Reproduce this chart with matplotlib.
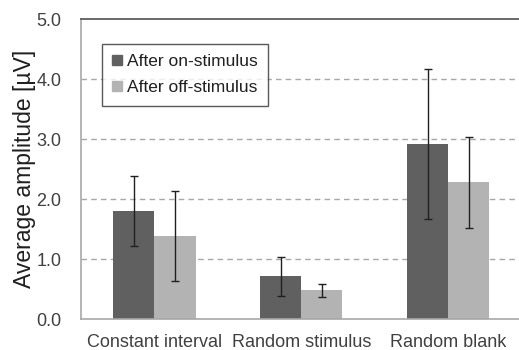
import numpy as np
import matplotlib.pyplot as plt
from matplotlib.patches import Patch

plt.rcParams['font.family'] = ['Liberation Sans', 'DejaVu Sans']

categories = ['Constant interval', 'Random stimulus', 'Random blank']
series_names = ['After on-stimulus', 'After off-stimulus']
on_mean = [1.80, 0.72, 2.92]
on_err_low = [1.21, 0.38, 1.66]
on_err_high = [2.38, 1.03, 4.16]
off_mean = [1.38, 0.48, 2.28]
off_err_low = [0.63, 0.37, 1.52]
off_err_high = [2.13, 0.58, 3.03]
yticks = [0.0, 1.0, 2.0, 3.0, 4.0, 5.0]

dark = '#606060'
light = '#b3b3b3'
text_col = '#404040'

fig = plt.figure(figsize=(5.19, 3.5), dpi=100)
ax = fig.add_axes([81 / 519, 31 / 350, 440.5 / 519, 300 / 350])

x = np.arange(len(categories))
w = 0.28

def draw(offset, mean, lo, hi, color):
    mean = np.array(mean)
    yerr = [mean - np.array(lo), np.array(hi) - mean]
    ax.bar(x + offset, mean, w, color=color, zorder=2)
    ax.errorbar(x + offset, mean, yerr=yerr, fmt='none', ecolor='#202020',
                elinewidth=1.0, capsize=3, capthick=1.0, zorder=3)

draw(-w / 2, on_mean, on_err_low, on_err_high, dark)
draw(w / 2, off_mean, off_err_low, off_err_high, light)

ax.set_xlim(-0.5, 2.5)
ax.set_ylim(0, 5)
ax.set_yticks(yticks)
ax.set_yticklabels([f'{v:.1f}' for v in yticks])
ax.set_xticks(x)
ax.set_xticklabels(categories)
ax.tick_params(axis='both', length=0, labelsize=13, labelcolor=text_col)
ax.tick_params(axis='y', pad=14)
ax.tick_params(axis='x', pad=11)

for v in yticks[1:-1]:
    ax.axhline(v, color='#a8a8a8', linestyle=(0, (4, 3)), linewidth=1.0, zorder=1)

ax.spines['left'].set_color('#a8a8a8')
ax.spines['bottom'].set_color('#a8a8a8')
ax.spines['top'].set_color('#505050')
ax.spines['right'].set_visible(False)
for s in ax.spines.values():
    s.set_linewidth(1.2)

ax.set_ylabel('Average amplitude [µV]', fontsize=16.5, color='#202020', labelpad=0)

handles = [Patch(color=dark), Patch(color=light)]
leg = ax.legend(handles, series_names, loc='upper left', bbox_to_anchor=(0.047, 0.918),
                fontsize=12.5, frameon=True, fancybox=False, handlelength=0.55,
                handleheight=0.55, handletextpad=0.3, labelspacing=0.65,
                borderpad=0.6, borderaxespad=0, labelcolor='#202020')
leg.get_frame().set_edgecolor('#303030')
leg.get_frame().set_linewidth(1.0)

fig.savefig('out.png', dpi=100)
